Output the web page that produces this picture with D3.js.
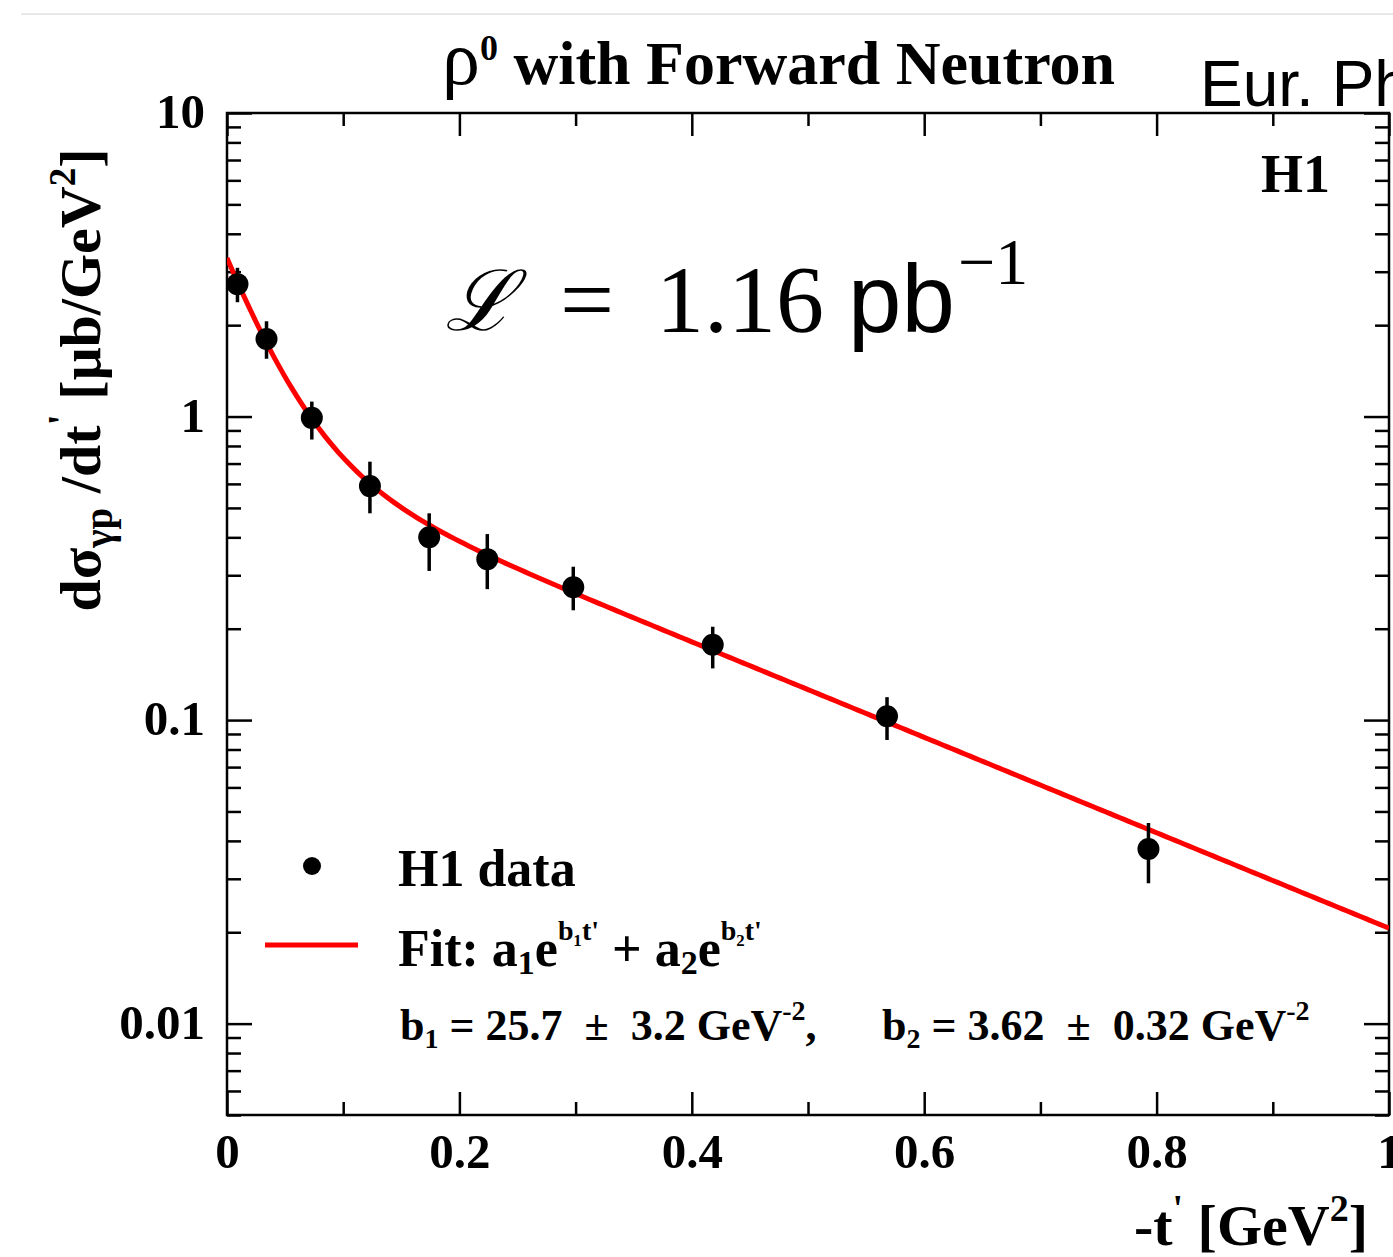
<!DOCTYPE html>
<html>
<head>
<meta charset="utf-8">
<script src="https://cdn.jsdelivr.net/npm/d3@7"></script>
<style>
  html, body { margin: 0; padding: 0; background: #fff; overflow: hidden; }
  svg { display: block; }
  .pre { white-space: pre; }
</style>
</head>
<body>
<svg id="chart" width="1393" height="1257"></svg>
<script>
// Measured differential cross section dσ/dt' for ρ0 photoproduction with a leading neutron
const tValues    = [0.009, 0.034, 0.073, 0.123, 0.174, 0.224, 0.298, 0.418, 0.568, 0.793];
const xsecValues = [2.73, 1.80, 0.99, 0.59, 0.40, 0.339, 0.274, 0.177, 0.103, 0.0376];
const errHigh    = [3.09, 2.06, 1.12, 0.71, 0.48, 0.41, 0.32, 0.203, 0.119, 0.0458];
const errLow     = [2.38, 1.55, 0.84, 0.48, 0.31, 0.27, 0.23, 0.148, 0.086, 0.029];

// Double-exponential fit parameters
const fitA1 = 2.56, fitB1 = 25.7;
const fitA2 = 0.77, fitB2 = 3.62;

// Axis ticks
const xTickValues = [0, 0.2, 0.4, 0.6, 0.8, 1];
const xTickLabels = ["0", "0.2", "0.4", "0.6", "0.8", "1"];
const xMinorValues = [0.1, 0.3, 0.5, 0.7, 0.9];
const yTickValues = [0.01, 0.1, 1, 10];
const yTickLabels = ["0.01", "0.1", "1", "10"];

const svg = d3.select("#chart");
const SERIF = "'Liberation Serif', 'Times New Roman', serif";
const SANS = "'Liberation Sans', Arial, sans-serif";

const L = 227, R = 1389, T = 113, B = 1115;
const x = d3.scaleLinear().domain([0, 1]).range([L, R]);
const y = d3.scaleLog().domain([0.005, 10]).range([B, T]);

// thin rule across the top of the page
svg.append("line").attr("x1", 21).attr("x2", 1393).attr("y1", 14).attr("y2", 14)
  .attr("stroke", "#e8e8e8").attr("stroke-width", 2);

// minor y ticks: 2..9 times each decade inside the domain
const yMinorValues = [];
[0.001, 0.01, 0.1, 1].forEach(d => {
  for (let k = 2; k <= 9; k++) {
    const v = k * d;
    if (v >= 0.005 && v < 10) yMinorValues.push(v);
  }
});

const styleAxis = g => {
  g.select(".domain").remove();
  g.selectAll(".tick line").attr("stroke", "#000").attr("stroke-width", 2.5);
};

// bottom axis (ticks pointing inward)
svg.append("g").attr("transform", `translate(0,${B})`)
  .call(d3.axisBottom(x).tickValues(xTickValues).tickSize(-23).tickPadding(18)
    .tickFormat((d, i) => xTickLabels[i]))
  .call(styleAxis)
  .call(g => g.selectAll("text").attr("font-family", SERIF).attr("font-weight", "bold")
    .attr("font-size", 49).attr("fill", "#000"));
svg.append("g").attr("transform", `translate(0,${B})`)
  .call(d3.axisBottom(x).tickValues(xMinorValues).tickSize(-13).tickFormat(""))
  .call(styleAxis);

// top axis
svg.append("g").attr("transform", `translate(0,${T})`)
  .call(d3.axisTop(x).tickValues(xTickValues).tickSize(-23).tickFormat(""))
  .call(styleAxis);
svg.append("g").attr("transform", `translate(0,${T})`)
  .call(d3.axisTop(x).tickValues(xMinorValues).tickSize(-13).tickFormat(""))
  .call(styleAxis);

// left axis
svg.append("g").attr("transform", `translate(${L},0)`)
  .call(d3.axisLeft(y).tickValues(yTickValues).tickSize(-25).tickPadding(22)
    .tickFormat((d, i) => yTickLabels[i]))
  .call(styleAxis)
  .call(g => g.selectAll("text").attr("font-family", SERIF).attr("font-weight", "bold")
    .attr("font-size", 49).attr("fill", "#000").attr("dy", "0.3em"));
svg.append("g").attr("transform", `translate(${L},0)`)
  .call(d3.axisLeft(y).tickValues(yMinorValues).tickSize(-14).tickFormat(""))
  .call(styleAxis);

// right axis
svg.append("g").attr("transform", `translate(${R},0)`)
  .call(d3.axisRight(y).tickValues(yTickValues).tickSize(-25).tickFormat(""))
  .call(styleAxis);
svg.append("g").attr("transform", `translate(${R},0)`)
  .call(d3.axisRight(y).tickValues(yMinorValues).tickSize(-14).tickFormat(""))
  .call(styleAxis);

// frame
svg.append("rect").attr("x", L).attr("y", T).attr("width", R - L).attr("height", B - T)
  .attr("fill", "none").attr("stroke", "#000").attr("stroke-width", 2.5);

// clip for the fit curve
svg.append("clipPath").attr("id", "plotClip")
  .append("rect").attr("x", L).attr("y", T).attr("width", R - L).attr("height", B - T);

// fit curve a1 exp(-b1 t) + a2 exp(-b2 t)
const fitT = d3.range(0, 1.0001, 0.004);
const fitFn = t => fitA1 * Math.exp(-fitB1 * t) + fitA2 * Math.exp(-fitB2 * t);
svg.append("path")
  .datum(fitT)
  .attr("clip-path", "url(#plotClip)")
  .attr("fill", "none").attr("stroke", "#ff0000").attr("stroke-width", 5)
  .attr("d", d3.line().x(t => x(t)).y(t => y(fitFn(t))));

// data points with error bars
const pts = tValues.map((t, i) => ({ t, v: xsecValues[i], hi: errHigh[i], lo: errLow[i] }));
const gp = svg.append("g");
gp.selectAll("line.err").data(pts).join("line").attr("class", "err")
  .attr("x1", d => x(d.t)).attr("x2", d => x(d.t))
  .attr("y1", d => y(d.hi)).attr("y2", d => y(d.lo))
  .attr("stroke", "#000").attr("stroke-width", 3.5);
gp.selectAll("circle").data(pts).join("circle")
  .attr("cx", d => x(d.t)).attr("cy", d => y(d.v)).attr("r", 11).attr("fill", "#000");

// title
const title = svg.append("text").attr("x", 442).attr("y", 84)
  .attr("font-family", SERIF).attr("font-size", 62).attr("fill", "#000");
title.append("tspan").attr("font-size", 76).text("ρ");
title.append("tspan").attr("font-weight", "bold").attr("font-size", 36).attr("dy", -24).text("0");
title.append("tspan").attr("font-weight", "bold").attr("dy", 24).text(" with Forward Neutron");

// journal reference (runs off the page edge)
svg.append("text").attr("x", 1200).attr("y", 106)
  .attr("font-family", SANS).attr("font-size", 64).attr("fill", "#000")
  .text("Eur. Phys. J. C");

// experiment tag
svg.append("text").attr("x", 1330).attr("y", 192).attr("text-anchor", "end")
  .attr("font-family", SERIF).attr("font-weight", "bold").attr("font-size", 54).attr("fill", "#000")
  .text("H1");

// integrated luminosity
svg.append("text").attr("x", 445).attr("y", 330)
  .attr("font-family", "'DejaVu Serif', serif").attr("font-style", "italic").attr("font-size", 84).attr("fill", "#000")
  .text("ℒ");
svg.append("text").attr("x", 560).attr("y", 332)
  .attr("font-family", SERIF).attr("font-size", 96).attr("fill", "#000")
  .text("=");
svg.append("text").attr("x", 656).attr("y", 332)
  .attr("font-family", "'Liberation Serif', 'DejaVu Serif', serif").attr("font-size", 96).attr("fill", "#000")
  .text("1.16");
svg.append("text").attr("x", 848).attr("y", 332)
  .attr("font-family", SANS).attr("font-size", 96).attr("fill", "#000")
  .text("pb");
svg.append("text").attr("x", 958).attr("y", 284)
  .attr("font-family", SERIF).attr("font-size", 66).attr("fill", "#000")
  .text("−1");

// y-axis title
const yt = svg.append("text")
  .attr("transform", "translate(100,380) rotate(-90)")
  .attr("text-anchor", "middle")
  .attr("font-family", SERIF).attr("font-weight", "bold").attr("font-size", 58).attr("fill", "#000");
yt.append("tspan").text("dσ");
yt.append("tspan").attr("font-size", 39).attr("dy", 12).text("γp");
yt.append("tspan").attr("dy", -12).text(" /dt");
yt.append("tspan").attr("font-size", 41).attr("dy", -25).text("'");
yt.append("tspan").attr("dy", 25).text(" [μb/GeV");
yt.append("tspan").attr("font-size", 37).attr("dy", -25).text("2");
yt.append("tspan").attr("dy", 25).text("]");

// x-axis title
const xt = svg.append("text").attr("x", 1368).attr("y", 1245).attr("text-anchor", "end")
  .attr("font-family", SERIF).attr("font-weight", "bold").attr("font-size", 58).attr("fill", "#000");
xt.append("tspan").text("-t");
xt.append("tspan").attr("font-size", 38).attr("dy", -24).text("'");
xt.append("tspan").attr("dy", 24).text(" [GeV");
xt.append("tspan").attr("font-size", 38).attr("dy", -24).text("2");
xt.append("tspan").attr("dy", 24).text("]");

// legend
const lg = svg.append("g");
lg.append("circle").attr("cx", 312).attr("cy", 866).attr("r", 9).attr("fill", "#000");
lg.append("text").attr("x", 398).attr("y", 886)
  .attr("font-family", SERIF).attr("font-weight", "bold").attr("font-size", 52).attr("fill", "#000")
  .text("H1 data");
lg.append("line").attr("x1", 265).attr("x2", 358).attr("y1", 945).attr("y2", 945)
  .attr("stroke", "#ff0000").attr("stroke-width", 5);
const fitText = lg.append("text").attr("x", 398).attr("y", 966)
  .attr("font-family", SERIF).attr("font-weight", "bold").attr("font-size", 52).attr("fill", "#000");
fitText.append("tspan").text("Fit: a");
fitText.append("tspan").attr("font-size", 34).attr("dy", 8).text("1");
fitText.append("tspan").attr("dy", -8).text("e");
fitText.append("tspan").attr("font-size", 28).attr("dy", -26).text("b₁t'");
fitText.append("tspan").attr("dy", 26).text(" + a");
fitText.append("tspan").attr("font-size", 34).attr("dy", 8).text("2");
fitText.append("tspan").attr("dy", -8).text("e");
fitText.append("tspan").attr("font-size", 28).attr("dy", -26).text("b₂t'");

const paramText = (x0, sub, rest) => {
  const t = lg.append("text").attr("class", "pre").attr("x", x0).attr("y", 1040)
    .attr("font-family", SERIF).attr("font-weight", "bold").attr("font-size", 44).attr("fill", "#000");
  t.append("tspan").text("b");
  t.append("tspan").attr("font-size", 28).attr("dy", 8).text(sub);
  t.append("tspan").attr("dy", -8).text(rest);
  t.append("tspan").attr("font-size", 28).attr("dy", -20).text("-2");
  return t;
};
paramText(400, "1", " = 25.7  ±  3.2 GeV").append("tspan").attr("dy", 20).text(",");
paramText(882, "2", " = 3.62  ±  0.32 GeV");
</script>
</body>
</html>
